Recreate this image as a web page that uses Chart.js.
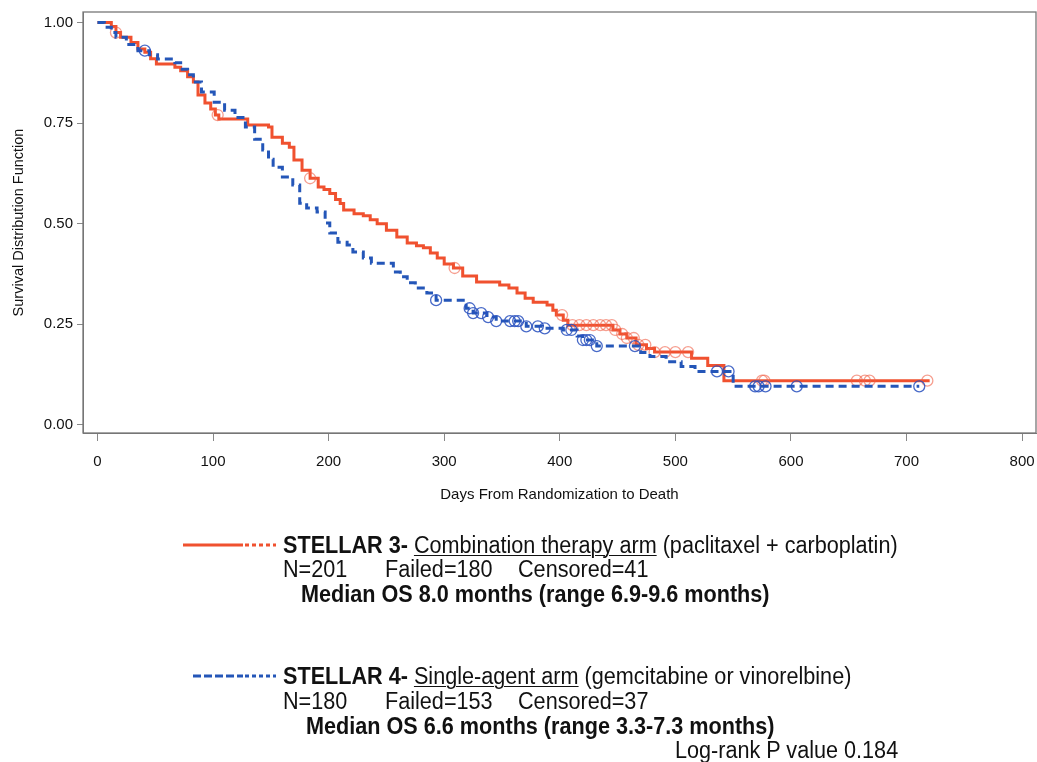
<!DOCTYPE html>
<html>
<head>
<meta charset="utf-8">
<script src="https://cdn.jsdelivr.net/npm/chart.js@4.4.0/dist/chart.umd.min.js"></script>
<style>
body { margin:0; background:#fff; width:1037px; height:762px; overflow:hidden; position:relative; font-family:"Liberation Sans", Arial, sans-serif; }
#wrap { position:absolute; left:0; top:0; width:1037px; height:515px; }
.t { position:absolute; font-size:23px; line-height:26px; white-space:pre; color:#111; transform:scaleX(0.94); transform-origin:left center; }
.b { font-weight:bold; }
.u { text-decoration:underline; text-decoration-thickness:1px; text-underline-offset:2px; }
svg { position:absolute; left:0; top:0; }
</style>
</head>
<body>
<div id="wrap"><canvas id="km" width="1037" height="515"></canvas></div>

<svg width="1037" height="762">
  <line x1="183" y1="545" x2="243" y2="545" stroke="#f0512f" stroke-width="3"/>
  <line x1="245" y1="545" x2="276" y2="545" stroke="#f0512f" stroke-width="3" stroke-dasharray="4,3"/>
  <line x1="193" y1="676" x2="243" y2="676" stroke="#2456b8" stroke-width="3" stroke-dasharray="8,3"/>
  <line x1="245" y1="676" x2="276" y2="676" stroke="#2456b8" stroke-width="3" stroke-dasharray="4,3"/>
</svg>

<div class="t" style="left:283px;top:532px"><span class="b">STELLAR 3-</span> <span class="u">Combination therapy arm</span> (paclitaxel + carboplatin)</div>
<div class="t" style="left:283px;top:556px">N=201</div>
<div class="t" style="left:385px;top:556px">Failed=180</div>
<div class="t" style="left:518px;top:556px">Censored=41</div>
<div class="t b" style="left:301px;top:581px">Median OS 8.0 months (range 6.9-9.6 months)</div>

<div class="t" style="left:283px;top:663px"><span class="b">STELLAR 4-</span> <span class="u">Single-agent arm</span> (gemcitabine or vinorelbine)</div>
<div class="t" style="left:283px;top:688px">N=180</div>
<div class="t" style="left:385px;top:688px">Failed=153</div>
<div class="t" style="left:518px;top:688px">Censored=37</div>
<div class="t b" style="left:306px;top:713px">Median OS 6.6 months (range 3.3-7.3 months)</div>
<div class="t" style="left:675px;top:737px">Log-rank P value 0.184</div>

<script>
// STELLAR 3 (combination arm) - step points: day, survival after that day
let redDays = [0, 12, 16, 20, 29, 35, 41, 46, 51, 67, 72, 78, 83, 87, 93, 98, 102, 105, 130, 148, 151, 160, 166, 170, 177, 184, 191, 196, 201, 206, 210, 213, 222, 230, 236, 242, 250, 259, 268, 276, 282, 288, 294, 300, 308, 316, 328, 348, 356, 363, 370, 377, 389, 394, 397, 403, 407, 446, 452, 458, 466, 475, 482, 514, 528, 542, 720];
let redSurv = [1.0, 0.99, 0.975, 0.963, 0.95, 0.934, 0.926, 0.91, 0.897, 0.889, 0.88, 0.865, 0.852, 0.82, 0.80, 0.785, 0.77, 0.76, 0.745, 0.74, 0.715, 0.70, 0.69, 0.658, 0.633, 0.613, 0.591, 0.585, 0.575, 0.56, 0.55, 0.534, 0.525, 0.52, 0.51, 0.50, 0.484, 0.467, 0.452, 0.445, 0.44, 0.427, 0.415, 0.40, 0.39, 0.37, 0.355, 0.348, 0.34, 0.328, 0.315, 0.305, 0.298, 0.285, 0.273, 0.26, 0.248, 0.236, 0.226, 0.216, 0.199, 0.19, 0.181, 0.166, 0.148, 0.11, 0.11];
let redCensorDays = [16, 104, 184, 309, 402, 411, 417, 423, 429, 435, 440, 445, 448, 454, 458, 464, 468, 474, 482, 491, 500, 511, 575, 577, 657, 664, 668, 718];

// STELLAR 4 (single-agent arm)
let blueDays = [0, 6, 12, 16, 25, 35, 45, 52, 67, 72, 78, 83, 90, 101, 110, 119, 128, 136, 143, 148, 152, 160, 169, 175, 181, 190, 197, 201, 208, 216, 221, 230, 237, 256, 262, 268, 275, 285, 293, 319, 325, 337, 345, 371, 385, 403, 415, 420, 432, 470, 478, 492, 505, 517, 550, 711];
let blueSurv = [1.0, 0.988, 0.975, 0.963, 0.945, 0.93, 0.92, 0.909, 0.90, 0.884, 0.87, 0.852, 0.827, 0.802, 0.782, 0.764, 0.74, 0.71, 0.683, 0.66, 0.64, 0.616, 0.596, 0.551, 0.539, 0.529, 0.502, 0.477, 0.454, 0.447, 0.43, 0.415, 0.402, 0.38, 0.368, 0.353, 0.34, 0.328, 0.31, 0.29, 0.278, 0.268, 0.258, 0.245, 0.24, 0.236, 0.221, 0.211, 0.196, 0.18, 0.17, 0.157, 0.145, 0.133, 0.096, 0.096];
let blueCensorDays = [41, 293, 322, 325, 332, 338, 345, 357, 361, 364, 371, 381, 387, 406, 410, 420, 423, 426, 432, 465, 536, 546, 569, 572, 578, 605, 711];

let xTicks = [0, 100, 200, 300, 400, 500, 600, 700, 800];
let yTicks = [0, 0.25, 0.5, 0.75, 1.0];

let redColor = '#f0512f';
let blueColor = '#2456b8';

// survival value of a step curve at a given day (censor marks sit on the curve)
function survAt(days, surv, d) {
    let s = surv[0];
    for (let i = 0; i < days.length; i++) {
        if (days[i] <= d) s = surv[i];
    }
    return s;
}

let toPoints = (days, surv) => days.map((d, i) => ({ x: d, y: surv[i] }));
let censorPoints = (cd, days, surv) => cd.map(d => ({ x: d, y: survAt(days, surv, d) }));

let framePlugin = {
    id: 'frame',
    afterDraw(chart) {
        let { ctx, chartArea: a } = chart;
        ctx.save();
        ctx.strokeStyle = '#777';
        ctx.lineWidth = 1.3;
        ctx.strokeRect(a.left, a.top, a.right - a.left, a.bottom - a.top);
        ctx.restore();
    }
};

let tickFont = { family: 'Liberation Sans', size: 15 };

new Chart(document.getElementById('km').getContext('2d'), {
    type: 'line',
    data: {
        datasets: [
            {
                data: censorPoints(blueCensorDays, blueDays, blueSurv),
                showLine: false, order: 0,
                pointStyle: 'circle', pointRadius: 5.5, pointBorderWidth: 1.3,
                pointBorderColor: 'rgba(40,80,190,0.85)', pointBackgroundColor: 'rgba(0,0,0,0)'
            },
            {
                data: toPoints(blueDays, blueSurv),
                stepped: true, order: 1,
                borderColor: blueColor, borderWidth: 3, borderDash: [8, 5],
                pointRadius: 0, fill: false
            },
            {
                data: censorPoints(redCensorDays, redDays, redSurv),
                showLine: false, order: 2,
                pointStyle: 'circle', pointRadius: 5.5, pointBorderWidth: 1.3,
                pointBorderColor: 'rgba(240,95,70,0.6)', pointBackgroundColor: 'rgba(0,0,0,0)'
            },
            {
                data: toPoints(redDays, redSurv),
                stepped: true, order: 3,
                borderColor: redColor, borderWidth: 3,
                pointRadius: 0, fill: false
            }
        ]
    },
    options: {
        responsive: false,
        animation: false,
        devicePixelRatio: 1,
        layout: { autoPadding: false, padding: { top: 12, right: 1, left: 0, bottom: 0 } },
        scales: {
            x: {
                type: 'linear',
                min: -12.5,
                max: 812,
                afterBuildTicks: s => { s.ticks = xTicks.map(v => ({ value: v })); },
                afterFit: s => { s.height = 82; s.paddingLeft = 0; s.paddingRight = 0; },
                ticks: { font: tickFont, color: '#111', padding: 12, maxRotation: 0 },
                grid: { drawOnChartArea: false, drawTicks: true, tickLength: 8, color: '#888' },
                border: { display: true, color: '#777' },
                title: {
                    display: true, text: 'Days From Randomization to Death',
                    font: { family: 'Liberation Sans', size: 15 }, color: '#111', padding: { top: 0, bottom: 11 }
                }
            },
            y: {
                type: 'linear',
                min: -0.02,
                max: 1.026,
                afterBuildTicks: s => { s.ticks = yTicks.map(v => ({ value: v })); },
                afterFit: s => { s.width = 83; s.paddingTop = 0; s.paddingBottom = 0; },
                ticks: { font: tickFont, color: '#111', padding: 4, callback: v => v.toFixed(2) },
                grid: { drawOnChartArea: false, drawTicks: true, tickLength: 6, color: '#888' },
                border: { display: true, color: '#777' },
                title: {
                    display: true, text: 'Survival Distribution Function',
                    font: { family: 'Liberation Sans', size: 14.5 }, color: '#111', padding: { top: 10, bottom: 0 }
                }
            }
        },
        plugins: {
            legend: { display: false },
            tooltip: { enabled: false }
        }
    },
    plugins: [framePlugin]
});
</script>
</body>
</html>
